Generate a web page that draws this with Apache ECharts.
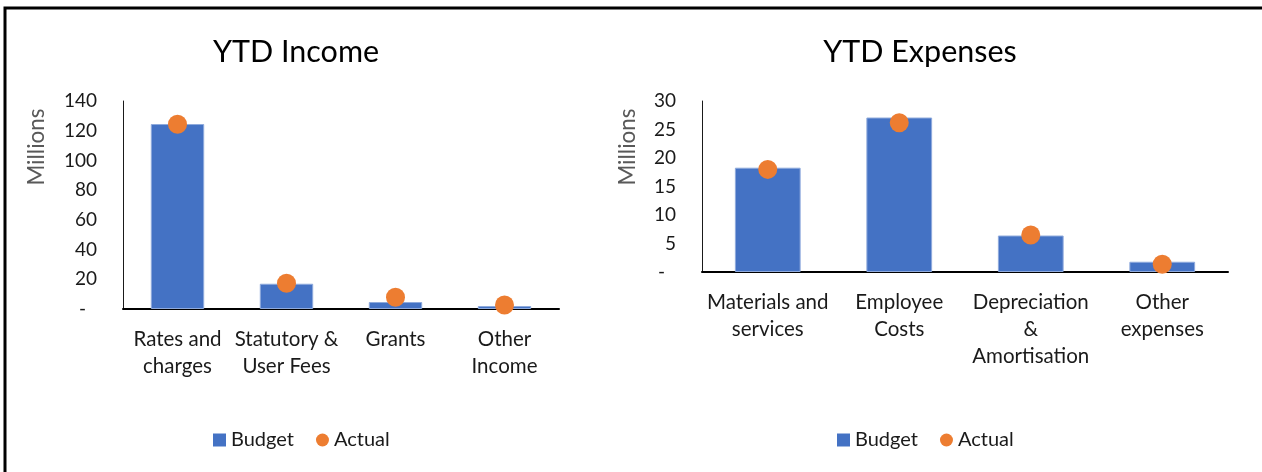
<!DOCTYPE html>
<html>
<head>
<meta charset="utf-8">
<script src="https://cdn.jsdelivr.net/npm/echarts@6/dist/echarts.min.js"></script>
<style>
html,body{margin:0;padding:0;background:#fff;}
#main{width:1262px;height:472px;}
</style>
</head>
<body>
<div id="main"></div>
<script>
const incomeCategories = ['Rates and\ncharges', 'Statutory &\nUser Fees', 'Grants', 'Other\nIncome'];
const incomeBudget = [124.5, 17.0, 4.7, 2.0];
const incomeActual = [124.3, 17.3, 7.9, 2.7];
const incomeTicks = { min: 0, max: 140, interval: 20 };

const expenseCategories = ['Materials and\nservices', 'Employee\nCosts', 'Depreciation\n&\nAmortisation', 'Other\nexpenses'];
const expenseBudget = [18.3, 27.1, 6.4, 1.8];
const expenseActual = [18.0, 26.2, 6.5, 1.35];
const expenseTicks = { min: 0, max: 30, interval: 5 };

const FONT = 'Lato';
const chart = echarts.init(document.getElementById('main'));

function yAxisCfg(gi, t) {
  return {
    type: 'value', gridIndex: gi, min: t.min, max: t.max, interval: t.interval,
    axisLine: { show: true, lineStyle: { color: '#1a1a1a', width: 1 } },
    axisTick: { show: false },
    splitLine: { show: false },
    axisLabel: {
      fontFamily: FONT, fontSize: 19, color: '#1a1a1a', margin: 26,
      formatter: v => v === 0 ? '{d|-}' : String(v),
      rich: { d: { fontFamily: FONT, fontSize: 19, color: '#1a1a1a', padding: [0, 11, 0, 0] } }
    }
  };
}
function xAxisCfg(gi, cats) {
  return {
    type: 'category', gridIndex: gi, data: cats,
    axisLine: { show: true, lineStyle: { color: '#000', width: 2 } },
    axisTick: { show: false },
    axisLabel: { fontFamily: FONT, fontSize: 20.5, color: '#1a1a1a', margin: 17, lineHeight: 27, interval: 0 }
  };
}
function legendCfg(left) {
  return {
    left: left, top: 425, itemWidth: 13, itemHeight: 13, itemGap: 22,
    textStyle: { fontFamily: FONT, fontSize: 20, color: '#1a1a1a' },
    itemStyle: { borderWidth: 0 },
    data: [{ name: 'Budget', icon: 'rect' }, { name: 'Actual', icon: 'circle' }]
  };
}

const option = {
  animation: false,
  backgroundColor: '#fff',
  grid: [
    { left: 123, right: 703, top: 101, bottom: 163 },
    { left: 702, right: 34, top: 101, bottom: 200 }
  ],
  xAxis: [xAxisCfg(0, incomeCategories), xAxisCfg(1, expenseCategories)],
  yAxis: [yAxisCfg(0, incomeTicks), yAxisCfg(1, expenseTicks)],
  legend: [legendCfg(208), legendCfg(832)],
  series: [
    { name: 'Budget', type: 'bar', xAxisIndex: 0, yAxisIndex: 0, data: incomeBudget, barWidth: '49%',
      itemStyle: { color: '#4472C4', borderColor: '#8FAADC', borderWidth: 1 } },
    { name: 'Actual', type: 'scatter', xAxisIndex: 0, yAxisIndex: 0, data: incomeActual, symbolSize: 19,
      itemStyle: { color: '#ED7D31', opacity: 1 } },
    { name: 'Budget', type: 'bar', xAxisIndex: 1, yAxisIndex: 1, data: expenseBudget, barWidth: '50%',
      itemStyle: { color: '#4472C4', borderColor: '#8FAADC', borderWidth: 1 } },
    { name: 'Actual', type: 'scatter', xAxisIndex: 1, yAxisIndex: 1, data: expenseActual, symbolSize: 19,
      itemStyle: { color: '#ED7D31', opacity: 1 } }
  ],
  graphic: [
    { type: 'polyline', silent: true, shape: { points: [[5, 472], [5, 8], [1262, 8]] },
      style: { stroke: '#000', lineWidth: 3, fill: null } },
    { type: 'text', x: 296, y: 52, style: { text: 'YTD Income', fontFamily: FONT, fontSize: 30.5, fill: '#000', textAlign: 'center', textVerticalAlign: 'middle' } },
    { type: 'text', x: 920, y: 52, style: { text: 'YTD Expenses', fontFamily: FONT, fontSize: 30.5, fill: '#000', textAlign: 'center', textVerticalAlign: 'middle' } },
    { type: 'text', x: 37, y: 147, rotation: Math.PI / 2, style: { text: 'Millions', fontFamily: FONT, fontSize: 22.5, fill: '#595959', textAlign: 'center', textVerticalAlign: 'middle' } },
    { type: 'text', x: 628, y: 147, rotation: Math.PI / 2, style: { text: 'Millions', fontFamily: FONT, fontSize: 22.5, fill: '#595959', textAlign: 'center', textVerticalAlign: 'middle' } }
  ]
};
chart.setOption(option);
</script>
</body>
</html>
